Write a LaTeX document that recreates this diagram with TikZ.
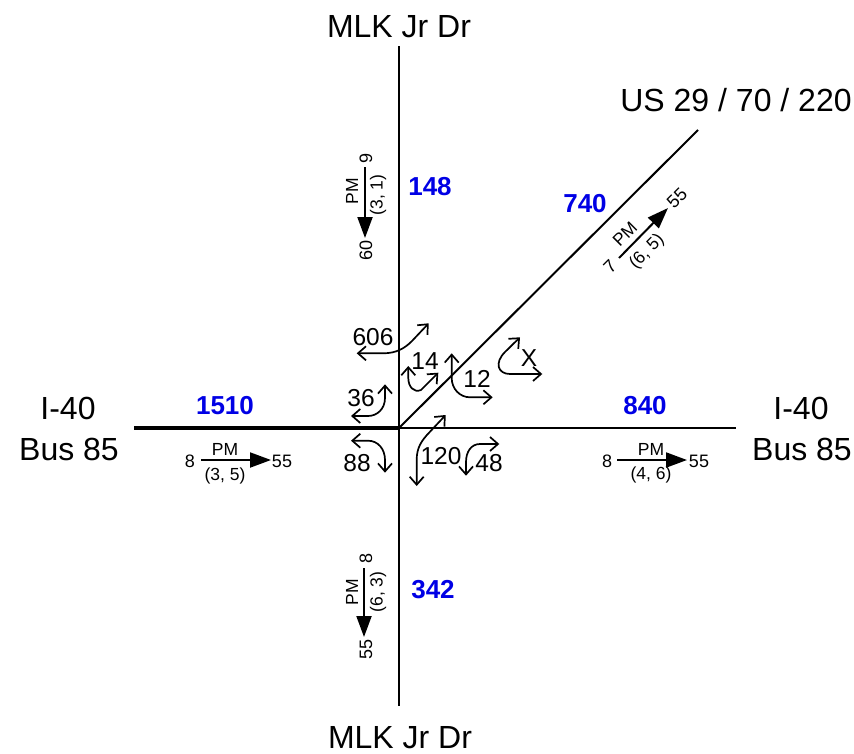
\documentclass[tikz,border=0pt]{standalone}
\usepackage{fontspec}
\setmainfont{Liberation Sans}
\usetikzlibrary{arrows.meta}
\tikzset{
  road/.style={line width=2pt,black},
  mainroad/.style={line width=3.5pt,black},
  turnboth/.style={line width=1.7pt,black,{Straight Barb[length=8pt,width=14pt,line width=1.7pt]}-{Straight Barb[length=8pt,width=14pt,line width=1.7pt]}},
  peak/.style={line width=2pt,black,-{Stealth[length=21pt,width=15pt,inset=0pt]}},
  roadname/.style={inner sep=0pt,font=\fontsize{32}{32}\selectfont,align=center},
  vol/.style={inner sep=0pt,font=\fontsize{24.5}{24.5}\selectfont},
  total/.style={inner sep=0pt,text=blue!90!black,font=\fontsize{26}{26}\selectfont\bfseries},
  small/.style={inner sep=0pt,font=\fontsize{17.5}{17.5}\selectfont},
  num/.style={inner sep=0pt,font=\fontsize{18}{18}\selectfont},
}
\begin{document}
\begin{tikzpicture}[x=1pt,y=-1pt]
\useasboundingbox (0,0) rectangle (854,753);
% roads
\coordinate (ctr) at (399,428);
\coordinate (nend) at (399,46);
\coordinate (send) at (399,706);
\coordinate (wend) at (134,428);
\coordinate (eend) at (736,428);
\coordinate (neend) at (698,130);
\draw[road] (nend) -- (send);
\draw[road] (ctr) -- (eend);
\draw[road] (ctr) -- (neend);
\draw[mainroad] (wend) -- (ctr);
% road names
\node[roadname] (mlkn) at (399,27) {MLK Jr Dr};
\node[roadname] (mlks) at (400,738) {MLK Jr Dr};
\node[roadname] (us) at (736,100) {US 29 / 70 / 220};
\node[roadname] (iw) at (68,408) {I-40};
\node[roadname] (bw) at (69,449) {Bus 85};
\node[roadname] (ie) at (801,408) {I-40};
\node[roadname] (be) at (802,449) {Bus 85};
% totals
\node[total] (tn) at (430,187) {148};
\node[total] (tne) at (585,204) {740};
\node[total] (tw) at (225,406) {1510};
\node[total] (te) at (645,406) {840};
\node[total] (ts) at (433,590) {342};
% turning movement arrows
\draw[turnboth] (428.7,323.3) -- (412,341) .. controls (404,349) and (396,353) .. (384,353.3) -- (356.7,353.3);
\draw[turnboth] (408.3,366) -- (408.3,378) .. controls (408.3,387) and (414,393) .. (421,390) -- (438.3,372.7);
\draw[turnboth] (451.7,353.3) -- (451.7,378) .. controls (451.7,389) and (460,397.3) .. (470,397.3) -- (492.7,397.3);
\draw[turnboth] (520,337.3) -- (505,352) .. controls (494,363) and (498,374) .. (510,374) -- (542.3,374);
\draw[turnboth] (385,384.3) -- (385,398) .. controls (385,409) and (377,416) .. (368,416) -- (351,416);
\draw[turnboth] (351,440.7) -- (368,440.7) .. controls (378,440.7) and (385,449) .. (385,460) -- (385,472.7);
\draw[turnboth] (445.7,415) -- (430,431.7) .. controls (421,441) and (416.7,448) .. (416.7,460) -- (416.7,486);
\draw[turnboth] (499.3,444) -- (480,444) .. controls (471,444) and (466,452) .. (466,462) -- (466,475.7);
% turning volumes
\node[vol] (v606) at (373,337) {606};
\node[vol] (v14) at (425,361) {14};
\node[vol] (v12) at (477,379) {12};
\node[vol] (vx) at (529,358) {X};
\node[vol] (v36) at (361,398) {36};
\node[vol] (v88) at (357,463) {88};
\node[vol] (v120) at (441,456) {120};
\node[vol] (v48) at (489,463) {48};
% peak hour: west
\node[num] (w8) at (190,461) {8};
\node[num] (w55) at (282,461) {55};
\draw[peak] (201,460) -- (271,460);
\node[small] (wpm) at (225,449) {PM};
\node[small] (wpair) at (225,476) {(3, 5)};
% peak hour: east
\node[num] (e8) at (607,461) {8};
\node[num] (e55) at (699,461) {55};
\draw[peak] (617,460) -- (687,460);
\node[small] (epm) at (651,449) {PM};
\node[small] (epair) at (651,475) {(4, 6)};
% peak hour: north
\node[num,rotate=90] (n9) at (366,158) {9};
\node[num,rotate=90] (n60) at (366,250) {60};
\draw[peak] (365,167) -- (365,238);
\node[small,rotate=90] (npm) at (352,191) {PM};
\node[small,rotate=90] (npair) at (378,195) {(3, 1)};
% peak hour: south
\node[num,rotate=90] (s8) at (366,558) {8};
\node[num,rotate=90] (s55) at (366,649) {55};
\draw[peak] (364,568) -- (364,637);
\node[small,rotate=90] (spm) at (352,592) {PM};
\node[small,rotate=90] (spair) at (378,592) {(6, 3)};
% peak hour: north-east
\node[num,rotate=45] (ne7) at (610,267) {7};
\node[num,rotate=45] (ne55) at (677,198) {55};
\draw[peak] (619,258) -- (668,208);
\node[small,rotate=45] (nepm) at (625,234) {PM};
\node[small,rotate=45] (nepair) at (647,252) {(6, 5)};
\end{tikzpicture}
\end{document}
